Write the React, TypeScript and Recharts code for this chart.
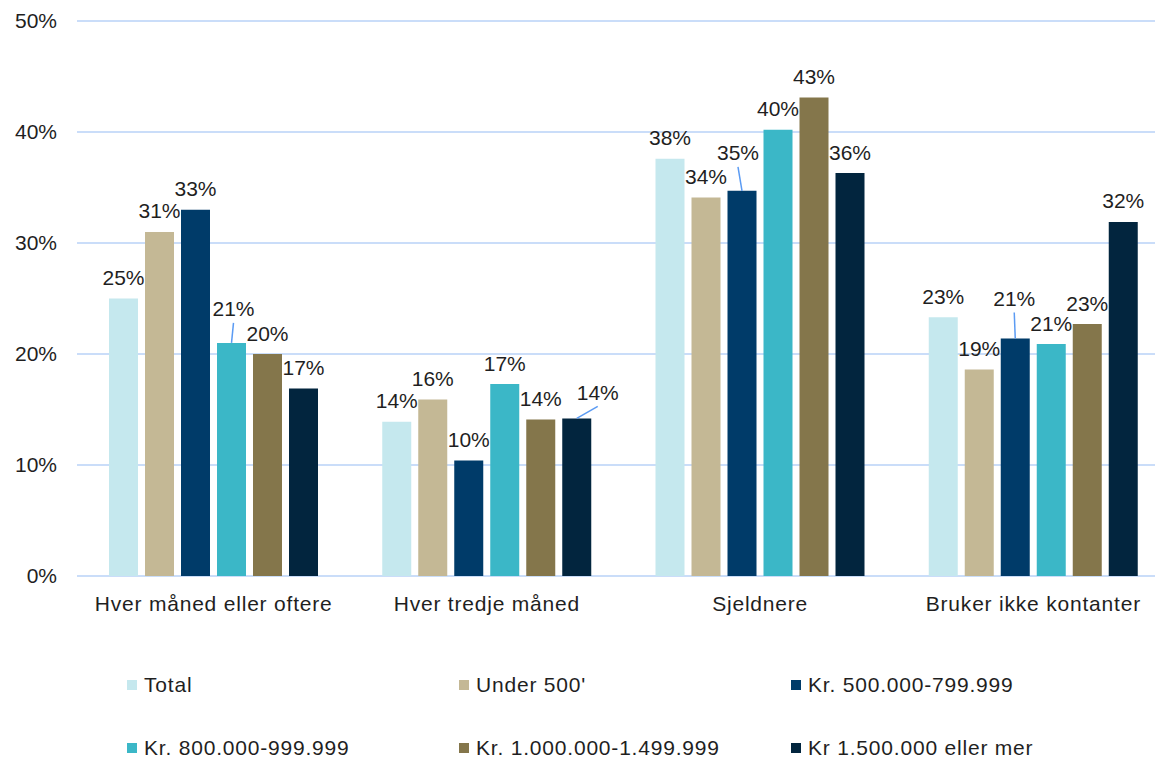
import React from "react";
import { BarChart, Bar, XAxis, YAxis, CartesianGrid } from "recharts";

const categories = ["Hver måned eller oftere", "Hver tredje måned", "Sjeldnere", "Bruker ikke kontanter"];
const total = [25.0, 13.9, 37.6, 23.3];
const under500 = [31.0, 15.9, 34.1, 18.6];
const k500 = [33.0, 10.4, 34.7, 21.4];
const k800 = [21.0, 17.3, 40.2, 20.9];
const k1000 = [20.0, 14.1, 43.1, 22.7];
const k1500 = [16.9, 14.2, 36.3, 31.9];
const yTicks = [0, 10, 20, 30, 40, 50];

const seriesNames = ["Total", "Under 500'", "Kr. 500.000-799.999", "Kr. 800.000-999.999", "Kr. 1.000.000-1.499.999", "Kr 1.500.000 eller mer"];
const seriesKeys = ["total", "under500", "k500", "k800", "k1000", "k1500"];
const seriesColors = ["#C5E8EE", "#C4B895", "#003B69", "#3BB7C7", "#84764B", "#02253E"];

const data = categories.map((c, i) => ({
  name: c,
  total: total[i],
  under500: under500[i],
  k500: k500[i],
  k800: k800[i],
  k1000: k1000[i],
  k1500: k1500[i],
}));

// label placement adjustments (leader-line labels)
const labelShift: Record<string, { dx: number; dy: number; leader: boolean }> = {
  "k800-0": { dx: 2, dy: -34, leader: true },
  "k1500-1": { dx: 21, dy: -26, leader: true },
  "k500-2": { dx: -4, dy: -38, leader: true },
  "k500-3": { dx: -1, dy: -40, leader: true },
};

const FONT = "'Liberation Sans', Arial, sans-serif";
const TEXT = "#1f1f1f";

const makeLabel = (key: string) => (props: any) => {
  const { x, y, width, value, index } = props;
  const cx = Number(x) + Number(width) / 2;
  const top = Number(y);
  const s = labelShift[`${key}-${index}`];
  const dx = s ? s.dx : 0;
  const dy = s ? s.dy : -21;
  return (
    <g>
      {s && s.leader ? (
        <line x1={cx} y1={top} x2={cx + dx} y2={top + dy + 14} stroke="#5B9BF3" strokeWidth={1.5} />
      ) : null}
      <text
        x={cx + dx}
        y={top + dy}
        dy="0.36em"
        textAnchor="middle"
        fontSize={21}
        fontFamily={FONT}
        fill={TEXT}
      >
        {`${Math.round(value)}%`}
      </text>
    </g>
  );
};

export default function App() {
  return (
    <div style={{ position: "absolute", left: 0, top: 0, width: 1155, height: 760, background: "#fff", overflow: "hidden" }}>
      <BarChart
        width={1170}
        height={760}
        data={data}
        margin={{ top: 21, right: 0, bottom: 124, left: 0 }}
        barSize={29}
        barGap={7}
      >
        <CartesianGrid vertical={false} stroke="#B9D2F7" strokeWidth={1.6} />
        <XAxis
          dataKey="name"
          height={60}
          axisLine={false}
          tickLine={false}
          tickSize={0}
          tickMargin={20}
          tick={{ fontSize: 21, fontFamily: FONT, fill: TEXT, letterSpacing: 0.8 } as any}
          interval={0}
        />
        <YAxis
          width={77}
          domain={[0, 50]}
          ticks={yTicks}
          axisLine={false}
          tickLine={false}
          tickSize={0}
          tickMargin={20}
          tickFormatter={(v: number) => `${v}%`}
          tick={{ fontSize: 21, fontFamily: FONT, fill: TEXT }}
        />
        {seriesKeys.map((k, i) => (
          <Bar
            key={k}
            dataKey={k}
            name={seriesNames[i]}
            fill={seriesColors[i]}
            isAnimationActive={false}
            label={makeLabel(k)}
          />
        ))}
      </BarChart>
      {seriesNames.map((n, i) => {
        const col = i % 3;
        const row = Math.floor(i / 3);
        const left = 127 + col * 332;
        const cy = row === 0 ? 685 : 748;
        return (
          <div
            key={n}
            style={{
              position: "absolute",
              left,
              top: cy - 14,
              height: 28,
              display: "flex",
              alignItems: "center",
              fontFamily: FONT,
              fontSize: 21,
              letterSpacing: 0.8,
              color: TEXT,
              whiteSpace: "nowrap",
            }}
          >
            <span style={{ display: "inline-block", width: 10, height: 10, background: seriesColors[i], marginRight: 7 }} />
            {n}
          </div>
        );
      })}
    </div>
  );
}
